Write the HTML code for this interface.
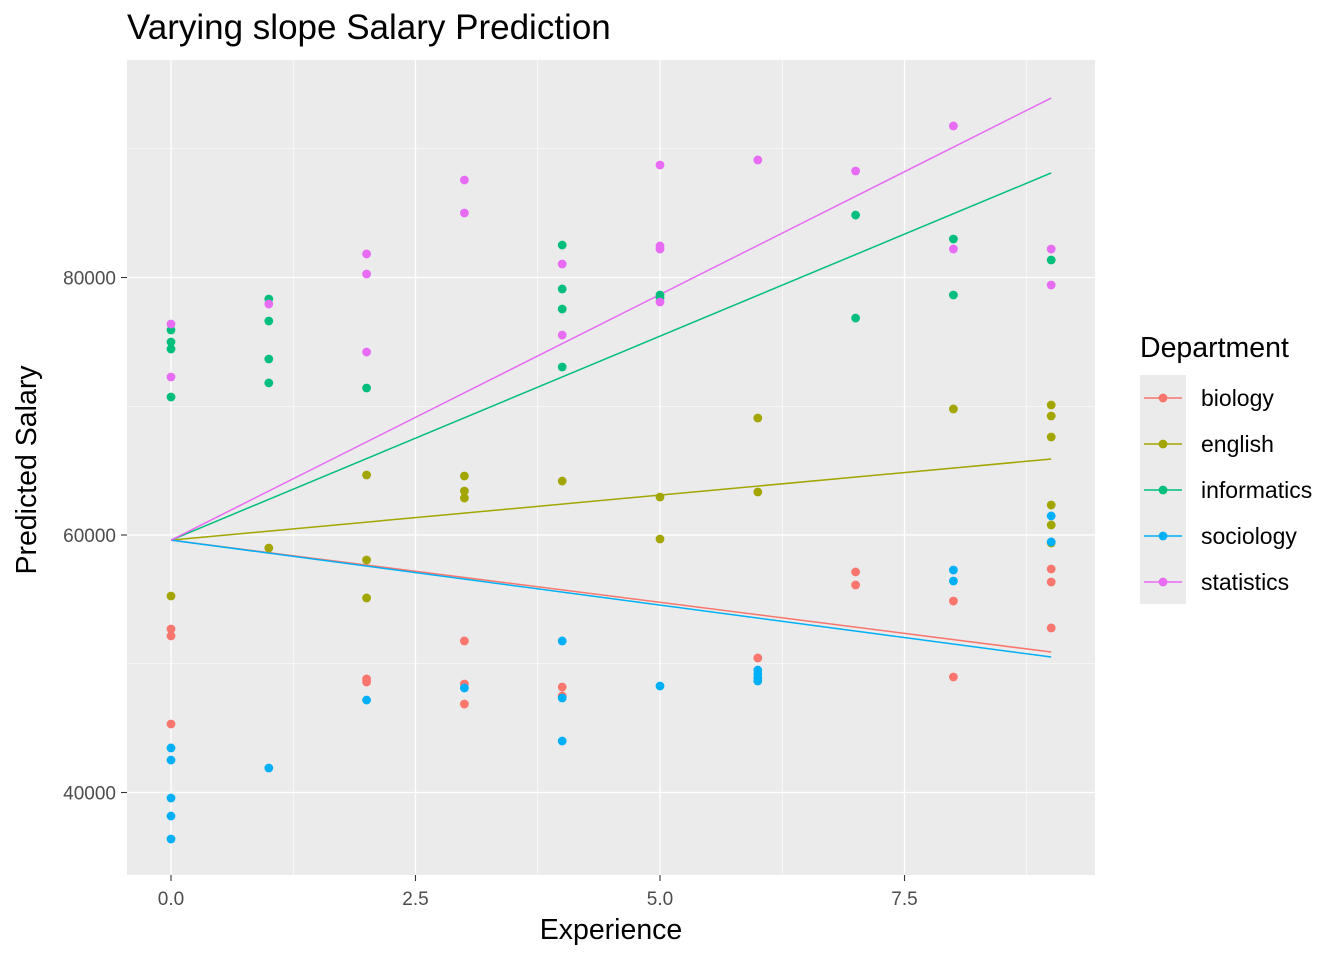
<!DOCTYPE html>
<html><head><meta charset="utf-8">
<style>
body{margin:0;background:#fff;font-family:"Liberation Sans",sans-serif;}
svg text{font-family:"Liberation Sans",sans-serif;}
</style></head>
<body>
<svg id="chart" width="1344" height="960" xmlns="http://www.w3.org/2000/svg">
<rect width="1344" height="960" fill="#fff"/>
<text x="127" y="39" font-size="35" fill="#000">Varying slope Salary Prediction</text>
<rect x="127" y="60" width="968" height="815" fill="#EBEBEB"/>
<g id="grid"></g>
<g id="lines"></g>
<g id="points"></g>
<g id="axes"></g>
<text x="611" y="939" font-size="28.5" text-anchor="middle">Experience</text>
<text transform="translate(36,470) rotate(-90)" font-size="28.5" text-anchor="middle">Predicted Salary</text>
<g id="legend"></g>
</svg>
<script>
const departments = ["biology","english","informatics","sociology","statistics"];
const colors = ["#F8766D","#A3A500","#00BF7D","#00B0F6","#E76BF3"];
const intercept = 59600;
const slopeEnds = [50910, 65900, 88120, 50520, 93940]; // predicted at x=9
const xTicks = [0, 2.5, 5, 7.5];
const xTickLabels = ["0.0","2.5","5.0","7.5"];
const yTicks = [40000, 60000, 80000];
const yTickLabels = ["40000","60000","80000"];
const biologyX = [0,0,0,2,2,3,3,3,4,4,6,7,7,8,8,9,9,9];
const biologyY = [52700,52160,45320,48820,48580,51770,48430,46870,48190,47500,50450,57130,56120,54870,48970,57360,56350,52780];
const englishX = [0,1,2,2,2,3,3,3,4,5,5,6,6,8,9,9,9,9,9,9];
const englishY = [55260,58990,64660,58060,55110,64580,63420,62870,64190,62950,59690,69090,63340,69790,70100,69240,67610,62330,60780,59380];
const informaticsX = [0,0,0,0,1,1,1,1,2,4,4,4,4,5,5,7,7,8,8,9];
const informaticsY = [75920,74990,74450,70720,78330,76620,73670,71810,71420,82520,79110,77550,73050,78640,78410,84850,76850,82990,78640,81360];
const sociologyX = [0,0,0,0,0,1,2,3,4,4,4,5,6,6,6,6,8,8,9,9];
const sociologyY = [43460,42520,39570,38170,36390,41900,47180,48120,51770,47340,44000,48270,49510,49200,48890,48660,57280,56430,61480,59460];
const statisticsX = [0,0,1,2,2,2,3,3,4,4,5,5,5,5,6,7,8,8,9,9];
const statisticsY = [76390,72270,77940,81830,80270,74210,87570,85010,81050,75530,88740,82450,82210,78100,89130,88270,91770,82210,82210,79420];
const seriesX = [biologyX, englishX, informaticsX, sociologyX, statisticsX];
const seriesY = [biologyY, englishY, informaticsY, sociologyY, statisticsY];

const NS = "http://www.w3.org/2000/svg";
function sx(v){ return 171 + v * 97.8; }
function sy(v){ return 535 - (v - 60000) * 257.5 / 20000; }
function mk(tag, attrs, parent){ const e = document.createElementNS(NS, tag); for (const k in attrs) e.setAttribute(k, attrs[k]); parent.appendChild(e); return e; }

const grid = document.getElementById("grid");
[-1.25,1.25,3.75,6.25,8.75].forEach(v=>{
  const l = mk("line",{x1:sx(v),x2:sx(v),y1:60,y2:875,stroke:"#fff","stroke-width":0.6},grid);
  
  
});
[30000,50000,70000,90000].forEach(v=>{
  const l = mk("line",{x1:127,x2:1095,y1:sy(v),y2:sy(v),stroke:"#fff","stroke-width":0.6},grid);
  
  
});
const axes = document.getElementById("axes");
xTicks.forEach((v,i)=>{
  const l = mk("line",{x1:sx(v),x2:sx(v),y1:60,y2:875,stroke:"#fff","stroke-width":1.3},grid);
  
  
  const t = mk("line",{x1:sx(v),x2:sx(v),y1:875,y2:881,stroke:"#333","stroke-width":1.1},axes);
  
  
  const tx = mk("text",{x:sx(v),y:905,"font-size":19,"text-anchor":"middle",fill:"#4D4D4D"},axes);
  tx.textContent = xTickLabels[i];
  
  
});
yTicks.forEach((v,i)=>{
  const l = mk("line",{x1:127,x2:1095,y1:sy(v),y2:sy(v),stroke:"#fff","stroke-width":1.3},grid);
  
  
  const t = mk("line",{x1:121,x2:127,y1:sy(v),y2:sy(v),stroke:"#333","stroke-width":1.1},axes);
  
  
  const tx = mk("text",{x:116,y:sy(v)+7,"font-size":19,"text-anchor":"end",fill:"#4D4D4D"},axes);
  tx.textContent = yTickLabels[i];
  
  
});

const pts = document.getElementById("points");
const lines = document.getElementById("lines");
const legend = document.getElementById("legend");
seriesX.forEach((xs,s)=>{
  xs.forEach((xv,i)=>{
    const c = mk("circle",{cx:sx(xv),cy:sy(seriesY[s][i]),r:4.4,fill:colors[s]},pts);
    
    
  });
});
departments.forEach((d,s)=>{
  const l = mk("line",{x1:sx(0),y1:sy(intercept),x2:sx(9),y2:sy(slopeEnds[s]),stroke:colors[s],"stroke-width":1.5},lines);
  
  
});
const lt = mk("text",{x:1140,y:357,"font-size":28.5},legend);
lt.textContent = "Department";


const lb = mk("rect",{x:1140,y:375,width:46,height:229,fill:"#EBEBEB"},legend);


departments.forEach((d,s)=>{
  const y = 398 + s*46;
  const g = mk("g",{},legend);
  
  
  mk("line",{x1:1144,x2:1182,y1:y,y2:y,stroke:colors[s],"stroke-width":1.5},g);
  mk("circle",{cx:1163,cy:y,r:4.4,fill:colors[s]},g);
  const t = mk("text",{x:1201,y:y+8,"font-size":23},g);
  t.textContent = d;
});
</script>
</body></html>
